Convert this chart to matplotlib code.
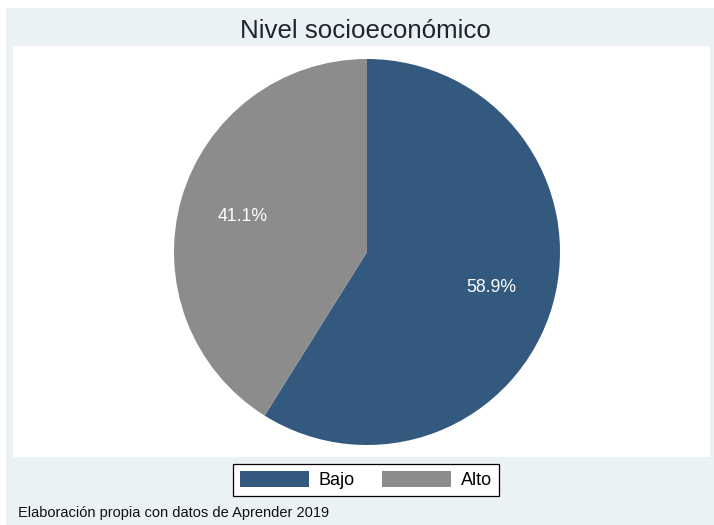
import matplotlib.pyplot as plt
from matplotlib.patches import Rectangle

# Data
categorias = ['Bajo', 'Alto']
valores = [58.9, 41.1]
colores = ['#335A7E', '#8C8C8C']

W, H = 714, 525
fig = plt.figure(figsize=(W / 100, H / 100), dpi=100)
fig.patch.set_facecolor('white')


def px(x, y, w, h):
    # pixel box (top-left origin) -> figure fraction
    return [x / W, 1 - (y + h) / H, w / W, h / H]


# Outer background and inner plot region
bx = px(6, 8, 708, 517)
fig.patches.append(Rectangle((bx[0], bx[1]), bx[2], bx[3], transform=fig.transFigure,
                             facecolor='#EAF2F3', edgecolor='none', zorder=-3))
wx = px(13, 46, 697, 411)
fig.patches.append(Rectangle((wx[0], wx[1]), wx[2], wx[3], transform=fig.transFigure,
                             facecolor='white', edgecolor='none', zorder=-2))

# Pie
cx, cy, r = 367, 252, 193
ax = fig.add_axes(px(cx - r, cy - r, 2 * r, 2 * r))
ax.set_facecolor('none')
wedges, textos, autotextos = ax.pie(
    valores, colors=colores, startangle=90, counterclock=False,
    autopct='%1.1f%%', pctdistance=0.67,
    textprops={'color': 'white', 'fontsize': 12.7, 'family': 'Liberation Sans'},
    wedgeprops={'linewidth': 0})
ax.set_xlim(-1, 1)
ax.set_ylim(-1, 1)
ax.set_aspect('equal')
ax.axis('off')

# Title
fig.text(365 / W, 1 - 31 / H, 'Nivel socioeconómico', ha='center', va='center',
         fontsize=18.6, color='#1F2430', family='Liberation Sans')

# Legend
leg = fig.legend(wedges, categorias, loc='center', bbox_to_anchor=(366 / W, 1 - 480 / H),
                 ncol=2, handlelength=3.8, handleheight=1.0,
                 handletextpad=0.55, columnspacing=1.5, borderpad=0.4,
                 fancybox=False, edgecolor='black', framealpha=1,
                 prop={'family': 'Liberation Sans', 'size': 13})
leg.get_frame().set_linewidth(0.9)

# Footer
fig.text(18 / W, 1 - 517 / H, 'Elaboración propia con datos de Aprender 2019',
         ha='left', va='baseline', fontsize=10.5, color='#111111', family='Liberation Sans')

fig.savefig('out.png', dpi=100, facecolor=fig.get_facecolor())
